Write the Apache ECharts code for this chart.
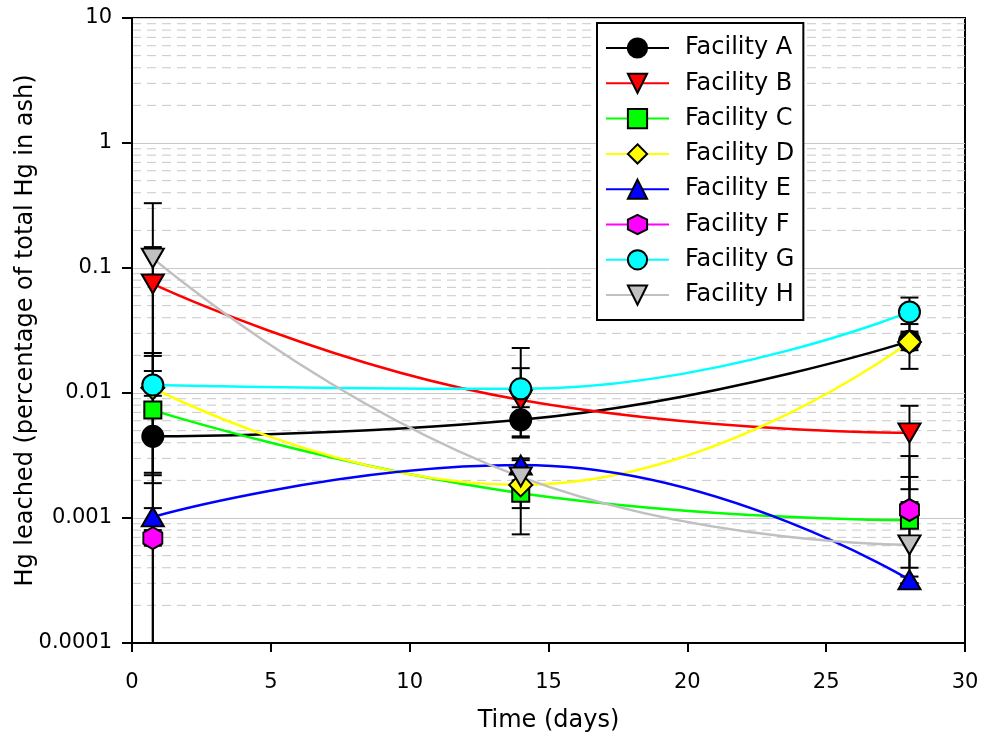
<!DOCTYPE html>
<html>
<head>
<meta charset="utf-8">
<script src="https://cdn.jsdelivr.net/npm/echarts@6/dist/echarts.min.js"></script>
<style>
html,body{margin:0;padding:0;background:#fff;}
#chart{width:981px;height:738px;}
</style>
</head>
<body>
<div id="chart"></div>
<script>
// ---- Data ----
var days = [0.75, 14, 28];
var seriesNames = ['Facility A','Facility B','Facility C','Facility D','Facility E','Facility F','Facility G','Facility H'];

var valA = [0.0045, 0.0061, 0.026];
var valB = [0.0745, 0.0088, 0.0048];
var valC = [0.0073, 0.00158, 0.00096];
var valD = [0.011, 0.00184, 0.0256];
var valE = [0.00102, 0.00265, 0.00032];
var valF = [0.00069, null, 0.00116];
var valG = [0.0116, 0.0108, 0.0445];
var valH = [0.12, 0.00213, 0.00061];

// error bar bounds (0 = lower bound falls below the axis)
var loA = [0.0019, 0.0045, 0.022],  hiA = [0.0071, 0.0077, 0.030];
var loB = [0.0095, 0.0044, 0.0017], hiB = [0.147, 0.0158, 0.0079];
var loC = [0, 0.0012, 0.0004],      hiC = [0.015, 0.0020, 0.00213];
var loD = [0.0022, 0.00074, 0.0156],hiD = [0.0198, 0.0029, 0.0356];
var loE = [0.0009, 0.0023, 0.0003], hiE = [0.0012, 0.0030, 0.00034];
var loF = [0.0006, null, 0.0010],   hiF = [0.0008, null, 0.00134];
var loG = [0.0023, 0.0058, 0.031],  hiG = [0.0209, 0.0229, 0.058];
var loH = [0, 0.0018, 0.0003],      hiH = [0.33, 0.0025, 0.00313];

var xTicks = [0, 5, 10, 15, 20, 25, 30];
var yTickLabels = ['0.0001', '0.001', '0.01', '0.1', '1', '10'];

// ---- Styles ----
var FONT = 'DejaVu Sans';
var yMin = 0.0001, yMax = 10;
var hexPath = 'path://M0,-1 L0.866,-0.5 L0.866,0.5 L0,1 L-0.866,0.5 L-0.866,-0.5 Z';
var downTri = 'path://M0,0 L2,0 L1,1.732 Z';
var styles = [
  {line:'#000000', fill:'#000000', symbol:'circle', size:21},
  {line:'#ff0000', fill:'#ff0000', symbol:downTri, size:[22,19]},
  {line:'#00ff00', fill:'#00ff00', symbol:'rect', size:17},
  {line:'#ffff00', fill:'#ffff00', symbol:'diamond', size:23},
  {line:'#0000ff', fill:'#0000ff', symbol:'triangle', size:[22,19]},
  {line:'#ff00ff', fill:'#ff00ff', symbol:hexPath, size:[19,22]},
  {line:'#00ffff', fill:'#00ffff', symbol:'circle', size:21},
  {line:'#c0c0c0', fill:'#c0c0c0', symbol:downTri, size:[22,19]}
];

var vals = [valA, valB, valC, valD, valE, valF, valG, valH];
var los = [loA, loB, loC, loD, loE, loF, loG, loH];
var his = [hiA, hiB, hiC, hiD, hiE, hiF, hiG, hiH];

// error bar data
var errData = [];
for (var s = 0; s < vals.length; s++) {
  for (var i = 0; i < days.length; i++) {
    if (vals[s][i] == null || his[s][i] == null) continue;
    errData.push([days[i], vals[s][i], los[s][i], his[s][i]]);
  }
}

// minor grid values 2..9 per decade
var minorVals = [];
for (var d = -4; d <= 0; d++) {
  for (var m = 2; m <= 9; m++) minorVals.push([0, m * Math.pow(10, d)]);
}

var series = [];
series.push({
  type: 'custom', name: 'minorGrid', silent: true, z: 0,
  data: minorVals,
  encode: {x: 0, y: 1},
  renderItem: function (params, api) {
    var v = api.value(1);
    var p1 = api.coord([0, v]), p2 = api.coord([30, v]);
    return {type: 'line', shape: {x1: p1[0], y1: p1[1], x2: p2[0], y2: p2[1]},
      style: {stroke: '#c8c8c8', lineWidth: 1, lineDash: [9, 6]}};
  }
});
series.push({
  type: 'custom', name: 'errors', silent: true, z: 1,
  data: errData,
  encode: {x: 0, y: 1},
  renderItem: function (params, api) {
    var x = api.value(0), lo = api.value(2), hi = api.value(3);
    var top = api.coord([x, hi]);
    var lowOff = !(lo >= yMin);
    var bot = api.coord([x, lowOff ? yMin : lo]);
    var hw = 9;
    var children = [
      {type: 'line', shape: {x1: top[0], y1: top[1], x2: bot[0], y2: bot[1]}, style: {stroke: '#000', lineWidth: 2}},
      {type: 'line', shape: {x1: top[0]-hw, y1: top[1], x2: top[0]+hw, y2: top[1]}, style: {stroke: '#000', lineWidth: 2}}
    ];
    if (!lowOff) children.push({type: 'line', shape: {x1: bot[0]-hw, y1: bot[1], x2: bot[0]+hw, y2: bot[1]}, style: {stroke: '#000', lineWidth: 2}});
    return {type: 'group', children: children};
  }
});
for (var k = 0; k < vals.length; k++) {
  var st = styles[k];
  series.push({
    type: 'line', name: seriesNames[k], z: 3,
    smooth: true,
    data: days.map(function (dd, i) { return [dd, vals[k][i]]; }),
    symbol: st.symbol, symbolSize: st.size,
    lineStyle: {color: st.line, width: 2.5},
    itemStyle: {color: st.fill, borderColor: '#000', borderWidth: 2},
    emphasis: {disabled: true}
  });
}

var chart = echarts.init(document.getElementById('chart'), null, {renderer: 'canvas'});
chart.setOption({
  animation: false,
  backgroundColor: '#fff',
  grid: {left: 132, right: 16, top: 18, bottom: 95, show: true, borderColor: '#000', borderWidth: 2,
    backgroundColor: 'transparent', containLabel: false, outerBoundsMode: 'none'},
  xAxis: {
    type: 'value', min: 0, max: 30, interval: 5,
    name: 'Time (days)', nameLocation: 'middle', nameGap: 66, nameMoveOverlap: false,
    nameTextStyle: {fontFamily: FONT, fontSize: 24, color: '#000'},
    axisLine: {show: true, lineStyle: {color: '#000', width: 2}},
    axisTick: {show: true, inside: false, length: 9, lineStyle: {color: '#000', width: 2}},
    axisLabel: {fontFamily: FONT, fontSize: 21, color: '#000', margin: 29,
      formatter: function (v) { var idx = xTicks.indexOf(Math.round(v)); return idx >= 0 ? String(xTicks[idx]) : ''; }},
    splitLine: {show: false}
  },
  yAxis: {
    type: 'log', logBase: 10, min: yMin, max: yMax,
    name: 'Hg leached (percentage of total Hg in ash)', nameLocation: 'middle', nameGap: 94, nameRotate: 90,
    nameMoveOverlap: false,
    nameTextStyle: {fontFamily: FONT, fontSize: 24, color: '#000'},
    axisLine: {show: true, lineStyle: {color: '#000', width: 2}},
    axisTick: {show: true, inside: false, length: 10, lineStyle: {color: '#000', width: 2}},
    axisLabel: {fontFamily: FONT, fontSize: 21, color: '#000', margin: 20,
      formatter: function (v) { var e = Math.round(Math.log10(v)); return yTickLabels[e + 4] || ''; }},
    splitLine: {show: true, lineStyle: {color: '#c8c8c8', width: 1}}
  },
  legend: {
    orient: 'vertical', left: 597, top: 23,
    data: seriesNames,
    itemWidth: 63, itemHeight: 24, itemGap: 11.3,
    padding: [13, 9, 13, 8],
    backgroundColor: '#fff', borderColor: '#000', borderWidth: 2, borderRadius: 0,
    textStyle: {fontFamily: FONT, fontSize: 24, color: '#000', lineHeight: 24, padding: [0, 0, 0, 11]},
    selectedMode: false
  },
  series: series
});
</script>
</body>
</html>
